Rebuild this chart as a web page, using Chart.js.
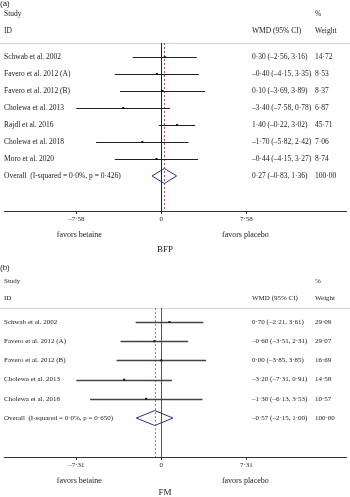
<!DOCTYPE html>
<html>
<head>
<meta charset="utf-8">
<script src="https://cdn.jsdelivr.net/npm/chart.js@4.4.0/dist/chart.umd.min.js"></script>
<style>
  body { margin: 0; background: #fff; }
  canvas { display: block; }
</style>
</head>
<body>
<canvas id="chartA" width="350" height="255"></canvas>
<canvas id="chartB" width="350" height="242"></canvas>
<script>
// panel (a) BFP
var studiesA = ['Schwab et al. 2002', 'Favero et al. 2012 (A)', 'Favero et al. 2012 (B)', 'Cholewa et al. 2013',
                'Rajdl et al. 2016', 'Cholewa et al. 2018', 'Moro et al. 2020'];
var wmdA = [0.30, -0.40, 0.10, -3.40, 1.40, -1.70, -0.44];
var lowA = [-2.56, -4.15, -3.69, -7.58, -0.22, -5.82, -4.15];
var highA = [3.16, 3.35, 3.89, 0.78, 3.02, 2.42, 3.27];
var weightA = [14.72, 8.53, 8.37, 6.87, 45.71, 7.06, 8.74];
var overallA = [0.27, -0.83, 1.36];   // estimate, low, high
var overallLabelA = 'Overall  (I-squared = 0·0%, p = 0·426)';
var ticksA = [-7.58, 0, 7.58];

// panel (b) FM
var studiesB = ['Schwab et al. 2002', 'Favero et al. 2012 (A)', 'Favero et al. 2012 (B)', 'Cholewa et al. 2013',
                'Cholewa et al. 2018'];
var wmdB = [0.70, -0.60, 0.00, -3.20, -1.30];
var lowB = [-2.21, -3.51, -3.85, -7.31, -6.13];
var highB = [3.61, 2.31, 3.85, 0.91, 3.53];
var weightB = [29.09, 29.07, 16.69, 14.58, 10.57];
var overallB = [-0.57, -2.15, 1.00];
var overallLabelB = 'Overall  (I-squared = 0·0%, p = 0·650)';
var ticksB = [-7.31, 0, 7.31];

function num(v) {
    return (v < 0 ? '–' : '') + Math.abs(v).toFixed(2).replace('.', '·');
}

function makePanel(id, p) {
    var n = p.studies.length;
    var points = p.wmd.map(function (v, i) { return { x: v, y: i }; });

    var forest = {
        id: 'forest',
        beforeDatasetsDraw: function (chart) {
            var ctx = chart.ctx, xs = chart.scales.x, ys = chart.scales.y, a = chart.chartArea;
            ctx.save();
            // header rule
            ctx.strokeStyle = '#d6d6d6';
            ctx.lineWidth = 1;
            ctx.beginPath(); ctx.moveTo(0, a.top + 0.5); ctx.lineTo(350, a.top + 0.5); ctx.stroke();
            // no-effect line
            var x0 = Math.round(xs.getPixelForValue(0)) + 0.5;
            ctx.strokeStyle = p.zeroColor;
            ctx.beginPath(); ctx.moveTo(x0, a.top); ctx.lineTo(x0, a.bottom); ctx.stroke();
            // overall estimate line
            var xo = Math.round(xs.getPixelForValue(p.overall[0])) + 0.5;
            ctx.strokeStyle = p.dashColor;
            ctx.setLineDash([2, 2]);
            ctx.beginPath(); ctx.moveTo(xo, a.top); ctx.lineTo(xo, a.bottom); ctx.stroke();
            ctx.setLineDash([]);
            // confidence intervals
            ctx.strokeStyle = p.ciColor;
            ctx.lineWidth = p.ciWidth;
            for (var i = 0; i < n; i++) {
                var y = Math.round(ys.getPixelForValue(i)) + 0.5;
                ctx.beginPath();
                ctx.moveTo(xs.getPixelForValue(p.low[i]), y);
                ctx.lineTo(xs.getPixelForValue(p.high[i]), y);
                ctx.stroke();
            }
            // overall diamond
            var yd = ys.getPixelForValue(n);
            ctx.strokeStyle = '#2b2f86';
            ctx.lineWidth = 1;
            ctx.fillStyle = '#fff';
            ctx.beginPath();
            ctx.moveTo(xs.getPixelForValue(p.overall[1]), yd);
            ctx.lineTo(xs.getPixelForValue(p.overall[0]), yd - 7.5);
            ctx.lineTo(xs.getPixelForValue(p.overall[2]), yd);
            ctx.lineTo(xs.getPixelForValue(p.overall[0]), yd + 7.5);
            ctx.closePath();
            ctx.stroke();
            ctx.restore();
        },
        afterDraw: function (chart) {
            var ctx = chart.ctx, ys = chart.scales.y, xs = chart.scales.x;
            ctx.save();
            ctx.fillStyle = '#1a1a1a';
            ctx.textBaseline = 'middle';
            ctx.textAlign = 'left';
            ctx.font = '8px "Liberation Sans"';
            ctx.fillText(p.tag, 0, p.tagY);
            ctx.font = p.fs + 'px "Liberation Serif"';
            ctx.fillText('Study', 4, p.studyY);
            ctx.fillText('ID', 4, p.idY);
            ctx.fillText('%', 315, p.studyY);
            ctx.fillText('WMD (95% CI)', 252, p.idY);
            ctx.fillText('Weight', 315, p.idY);
            for (var i = 0; i <= n; i++) {
                var y = ys.getPixelForValue(i);
                if (i < n) {
                    ctx.fillText(p.studies[i], 4, y);
                    ctx.fillText(num(p.wmd[i]) + ' (' + num(p.low[i]) + ', ' + num(p.high[i]) + ')', 252, y);
                    ctx.fillText(num(p.weight[i]), 315, y);
                } else {
                    ctx.fillText(p.overallLabel, 4, y);
                    ctx.fillText(num(p.overall[0]) + ' (' + num(p.overall[1]) + ', ' + num(p.overall[2]) + ')', 252, y);
                    ctx.fillText('100·00', 315, y);
                }
            }
            ctx.textAlign = 'center';
            ctx.font = '8px "Liberation Serif"';
            ctx.fillText('favors betaine', xs.getPixelForValue(p.ticks[0]) + 3, p.favY);
            ctx.fillText('favors placebo', xs.getPixelForValue(p.ticks[2]) - 1, p.favY);
            ctx.font = '9px "Liberation Serif"';
            ctx.fillText(p.title, 165, p.titleY);
            ctx.restore();
        }
    };

    return new Chart(document.getElementById(id).getContext('2d'), {
        type: 'scatter',
        data: {
            datasets: [{
                data: points,
                pointStyle: 'rect',
                pointRadius: 1.4,
                backgroundColor: '#111',
                borderColor: '#111',
                borderWidth: 0
            }]
        },
        options: {
            responsive: false,
            animation: false,
            devicePixelRatio: 1,
            layout: { padding: { top: p.top, bottom: p.bottom, left: 0, right: 0 } },
            plugins: { legend: { display: false }, tooltip: { enabled: false } },
            scales: {
                x: {
                    type: 'linear',
                    min: p.xmin,
                    max: p.xmax,
                    afterBuildTicks: function (s) {
                        s.ticks = p.ticks.map(function (v) { return { value: v }; });
                    },
                    afterFit: function (s) { s.height = 14; },
                    grid: { drawOnChartArea: false, drawTicks: true, tickLength: 3, color: '#333' },
                    border: { display: true, color: '#333', width: 1 },
                    ticks: {
                        autoSkip: false,
                        maxRotation: 0,
                        padding: 1,
                        color: '#1a1a1a',
                        font: { family: 'Liberation Serif', size: 7 },
                        callback: function (v) { return v === 0 ? '0' : num(v); }
                    }
                },
                y: {
                    type: 'linear',
                    display: false,
                    reverse: true,
                    min: p.ymin,
                    max: p.ymax
                }
            }
        },
        plugins: [forest]
    });
}

makePanel('chartA', {
    studies: studiesA, wmd: wmdA, low: lowA, high: highA, weight: weightA,
    overall: overallA, overallLabel: overallLabelA, ticks: ticksA,
    tag: '(a)', title: 'BFP',
    top: 43, bottom: 30, ymin: -0.82, ymax: 9.06,
    xmin: -14.03, xmax: 16.46,
    fs: 7.5, tagY: 4, studyY: 14, idY: 31, favY: 235, titleY: 250,
    zeroColor: '#222', ciColor: '#222', ciWidth: 1, dashColor: '#d03a44'
});

makePanel('chartB', {
    studies: studiesB, wmd: wmdB, low: lowB, high: highB, weight: weightB,
    overall: overallB, overallLabel: overallLabelB, ticks: ticksB,
    tag: '(b)', title: 'FM',
    top: 53, bottom: 26, ymin: -0.73, ymax: 7.03,
    xmin: -13.53, xmax: 15.88,
    fs: 7, tagY: 13, studyY: 26, idY: 43, favY: 226, titleY: 238,
    zeroColor: '#555', ciColor: '#444', ciWidth: 1.3, dashColor: '#d9707a'
});
</script>
</body>
</html>
